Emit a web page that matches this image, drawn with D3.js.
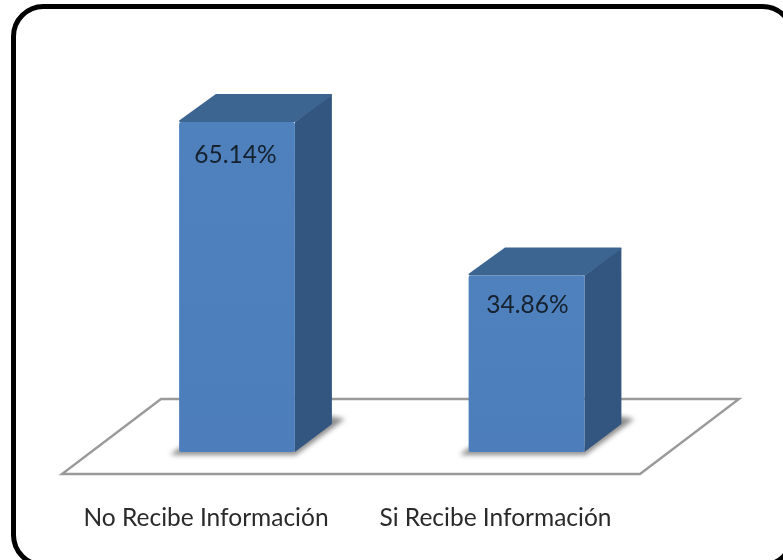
<!DOCTYPE html>
<html><head><meta charset="utf-8">
<script src="https://cdnjs.cloudflare.com/ajax/libs/d3/7.8.5/d3.min.js"></script>
<style>html,body{margin:0;padding:0;background:#fff;overflow:hidden}svg{display:block}</style>
</head><body><div id="c"></div>
<script>
const categories = ["No Recibe Información", "Si Recibe Información"];
const values = [65.14, 34.86];
const valueLabels = ["65.14%", "34.86%"];

const W = 783, H = 560, depthX = 37, depthY = 28, baseY = 452;
const svg = d3.select("#c").append("svg").attr("width", W).attr("height", H);
const defs = svg.append("defs");
defs.append("filter").attr("id","sh").attr("x","-20%").attr("y","-50%").attr("width","140%").attr("height","200%")
  .append("feGaussianBlur").attr("stdDeviation",2.6);
defs.append("filter").attr("id","soft").append("feGaussianBlur").attr("stdDeviation",0.5);
const g1 = defs.append("linearGradient").attr("id","front").attr("x1",0).attr("x2",0).attr("y1",0).attr("y2",1);
g1.append("stop").attr("offset","0").attr("stop-color","#4f81bd");
g1.append("stop").attr("offset","1").attr("stop-color","#4d7ebb");

const x = d3.scaleBand().domain(categories).range([92.25, 671.25]).paddingInner(0.6).paddingOuter(0.3);
const y = d3.scaleLinear().domain([0, 65.14]).range([baseY, 122]);
const line = d3.line();

svg.append("rect").attr("width",W).attr("height",H).attr("fill","#fff");
svg.append("rect").attr("x",13.5).attr("y",6.5).attr("width",779).attr("height",558.5)
  .attr("rx",30).attr("ry",30).attr("fill","#fff").attr("stroke","#000").attr("stroke-width",5);

const plot = svg.append("g").attr("filter","url(#soft)");

// floor
const fl = x.range()[0]-30.25, fr = x.range()[1]-31.25;
plot.append("path")
  .attr("d", line([[fl,474],[fr,474],[fr+99,399],[fl+99,399]])+"Z")
  .attr("fill","#fff").attr("stroke","#9a9a9a").attr("stroke-width",2.4);

const bars = plot.selectAll("g.bar").data(categories.map((c,i)=>({c,v:values[i],l:valueLabels[i],i})))
  .join("g").attr("class","bar");

// shadow
bars.append("path").attr("filter","url(#sh)").attr("fill","#8c8c8c")
  .attr("d", d=>{const a=x(d.c),b=a+x.bandwidth();
    return line([[a-9,455],[b+1,455],[b+depthX+13,419],[b+depthX-3,416],[b,448],[a,448]])+"Z";});
// side
bars.append("path").attr("fill","#335680")
  .attr("d", d=>{const b=x(d.c)+x.bandwidth(),t=y(d.v);
    return line([[b,t],[b+depthX,t-depthY],[b+depthX,baseY-depthY],[b,baseY]])+"Z";});
// top
bars.append("path").attr("fill","#3d6591").attr("stroke","#3d6591").attr("stroke-width",2).attr("stroke-linejoin","round")
  .attr("d", d=>{const a=x(d.c),b=a+x.bandwidth(),t=y(d.v);
    return line([[a+1,t-1],[a+depthX,t-depthY+1],[b+depthX-1,t-depthY+1],[b,t-1]])+"Z";});
// front
bars.append("rect").attr("x",d=>x(d.c)).attr("y",d=>y(d.v)).attr("width",x.bandwidth())
  .attr("height",d=>baseY-y(d.v)).attr("rx",2).attr("fill","url(#front)");
// labels
bars.append("text").attr("x",d=>x(d.c)+x.bandwidth()/2+(d.i?1:-1.5)).attr("y",d=>y(d.v)+(d.i?37.5:41))
  .attr("text-anchor","middle").attr("font-family","Lato").attr("font-size",24.5).attr("fill","#14202e")
  .text(d=>d.l);

// category axis, on the projected floor
const axis = d3.axisBottom(x).tickSize(0).tickPadding(0);
const ag = plot.append("g").attr("transform","translate(-31,509)").call(axis);
ag.select(".domain").remove();
ag.selectAll("text").attr("font-family","Lato").attr("font-size",24.5).attr("fill","#2a2a2a");
</script></body></html>
